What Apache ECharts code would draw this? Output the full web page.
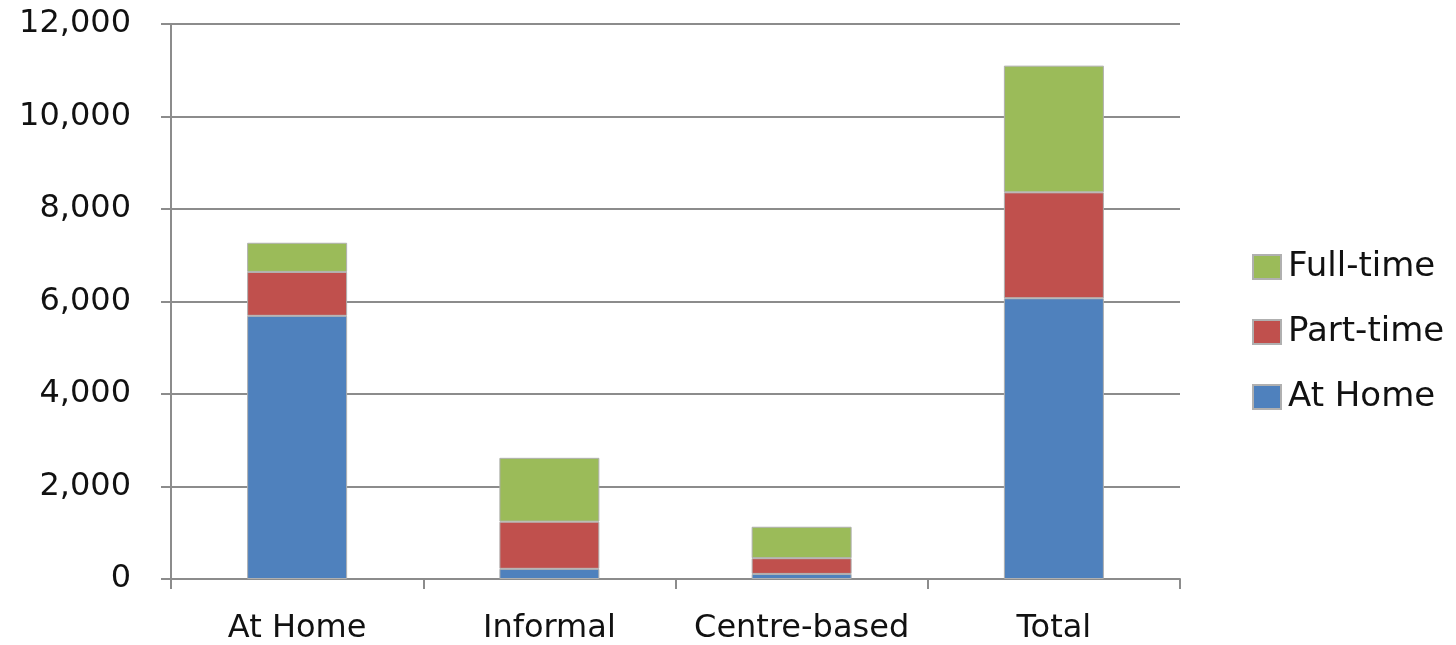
<!DOCTYPE html>
<html>
<head>
<meta charset="utf-8">
<script src="https://cdn.jsdelivr.net/npm/echarts@6/dist/echarts.min.js"></script>
<style>
  html, body { margin: 0; padding: 0; background: #fff; }
  #chart { width: 1456px; height: 645px; }
</style>
</head>
<body>
<div id="chart"></div>
<script type="text/javascript">
    // data
    var categories = ['At Home', 'Informal', 'Centre-based', 'Total'];
    var atHome = [5690, 220, 110, 6070];
    var partTime = [950, 1020, 340, 2290];
    var fullTime = [630, 1380, 680, 2740];
    var yTicks = [0, 2000, 4000, 6000, 8000, 10000, 12000];

    var font = 'DejaVu Sans';
    var gridColor = '#8c8c8c';

    function bar(name, data, color) {
        return {
            name: name,
            type: 'bar',
            stack: 'all',
            data: data,
            barWidth: 100,
            itemStyle: { color: color, borderColor: '#b0b0b0', borderWidth: 1 }
        };
    }

    var myChart = echarts.init(document.getElementById('chart'));
    myChart.setOption({
        animation: false,
        grid: { left: 171, right: 276, top: 24, bottom: 63 },
        legend: {
            orient: 'vertical',
            left: 1247,
            top: 245,
            itemWidth: 28,
            itemHeight: 24,
            itemGap: 31,
            data: ['Full-time', 'Part-time', 'At Home'],
            textStyle: { fontFamily: font, fontSize: 34, color: '#111', padding: [0, 0, 0, 2] },
            icon: 'rect'
        },
        xAxis: {
            type: 'category',
            data: categories,
            axisLine: { lineStyle: { color: gridColor, width: 2 } },
            axisTick: { show: true, length: 10, lineStyle: { color: gridColor, width: 2 } },
            axisLabel: { interval: 0, fontFamily: font, fontSize: 32, color: '#111', margin: 34 }
        },
        yAxis: {
            type: 'value',
            min: yTicks[0],
            max: yTicks[yTicks.length - 1],
            interval: 2000,
            axisLine: { show: true, lineStyle: { color: gridColor, width: 2 } },
            axisTick: { show: true, length: 10, lineStyle: { color: gridColor, width: 2 } },
            splitLine: { lineStyle: { color: gridColor, width: 2 } },
            axisLabel: {
                fontFamily: font, fontSize: 32, color: '#111', margin: 40,
                formatter: function (v) { return v.toLocaleString('en-US'); }
            }
        },
        series: [
            bar('At Home', atHome, '#4f81bd'),
            bar('Part-time', partTime, '#c0504d'),
            bar('Full-time', fullTime, '#9bbb59')
        ]
    });
</script>
</body>
</html>
